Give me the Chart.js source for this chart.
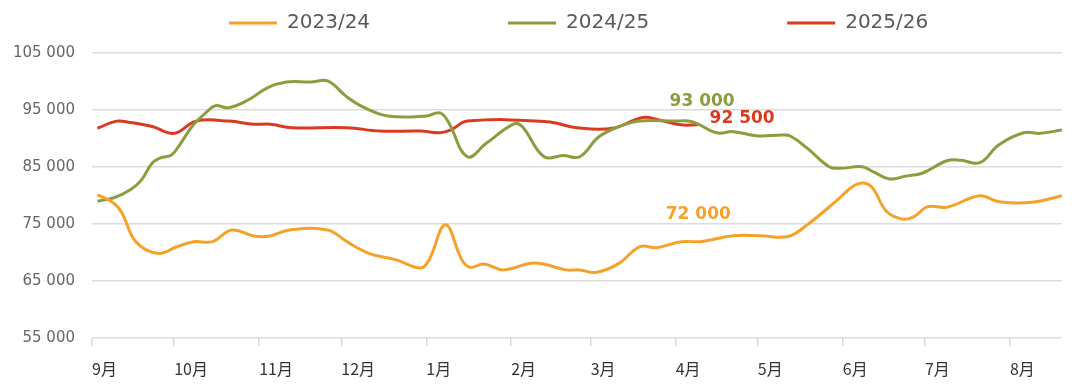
<!DOCTYPE html>
<html>
<head>
<meta charset="utf-8">
<script src="https://cdn.jsdelivr.net/npm/chart.js@4/dist/chart.umd.min.js"></script>
<style>
  html, body { margin: 0; padding: 0; background: #ffffff; }
  #wrap { width: 1080px; height: 387px; position: relative; }
</style>
</head>
<body>
<div id="wrap"><canvas id="c" width="1080" height="387"></canvas></div>
<script>
// ---- data (x = day of season counted from 1 Sep) ----
const monthLabels = ['9月', '10月', '11月', '12月', '1月', '2月', '3月', '4月', '5月', '6月', '7月', '8月'];
const monthStartDays = [0, 30, 61, 91, 122, 153, 182, 213, 243, 274, 304, 335];
const seasonLabels = ['2023/24', '2024/25', '2025/26'];

const days2324 = [2, 8, 11, 16, 24, 31, 37, 44, 51, 59, 65, 72, 86, 93, 101, 111, 120, 123, 129, 135, 138, 143, 150, 160, 165, 173, 178, 184, 192, 200, 206, 215, 222, 234, 244, 254, 261, 272, 278, 282, 285, 290, 296, 300, 305, 312, 324, 331, 343, 354];
const values2324 = [80100, 78650, 76900, 71900, 69850, 71000, 71900, 71900, 73950, 72900, 72900, 73950, 73950, 71900, 69850, 68700, 67300, 68700, 74850, 68700, 67400, 68000, 66950, 68100, 67950, 66950, 66950, 66500, 68000, 71050, 70850, 71900, 71900, 72950, 72950, 72800, 74850, 79200, 81700, 82150, 81250, 77200, 75850, 76300, 78050, 77950, 79950, 78900, 78800, 79950];

const days2425 = [2, 8, 14, 18, 22, 25, 29, 32, 37, 42, 45, 50, 57, 64, 71, 80, 86, 93, 99, 108, 122, 127, 130, 137, 144, 154, 157, 165, 172, 178, 185, 193, 200, 212, 219, 228, 234, 243, 252, 255, 261, 269, 273, 281, 285, 291, 297, 303, 312, 317, 324, 331, 340, 346, 354];
const values2425 = [79000, 79600, 81000, 82700, 85700, 86600, 87100, 88900, 92400, 94700, 95750, 95400, 96750, 98900, 99900, 99900, 100100, 97300, 95500, 93950, 93950, 94500, 92950, 86800, 89200, 92550, 92100, 86800, 87000, 86800, 90300, 92200, 93050, 93050, 92950, 91000, 91200, 90450, 90600, 90400, 88300, 85050, 84770, 85050, 84200, 82900, 83400, 83900, 86100, 86200, 85750, 88900, 91000, 90900, 91500];

const days2526 = [2, 9, 14, 22, 30, 38, 50, 59, 65, 73, 93, 105, 120, 127, 131, 137, 166, 177, 190, 201, 207, 215, 221];
const values2526 = [91800, 93050, 92800, 92100, 90900, 93050, 93050, 92500, 92500, 91900, 91900, 91300, 91300, 91000, 91500, 93050, 92950, 91900, 91800, 93700, 93250, 92400, 92400];

// latest-value labels: [text, series index, day, value]
const calloutTexts = ['93 000', '92 500', '72 000'];
const calloutSeries = [1, 2, 0];
const calloutDays = [219, 221, 222];
const calloutValues = [93000, 92500, 72000];

const yTickValues = [55000, 65000, 75000, 85000, 95000, 105000];

// ---- styles ----
const colors = ['#F5A22A', '#8A9E3E', '#DA3B20'];
const calloutStyle = [
  { dx: 10, dy: -20, align: 'center' },
  { dx: 12, dy: -6, align: 'left' },
  { dx: -2, dy: -27, align: 'center' }
];

function pairs(xs, ys) { return xs.map((x, i) => ({ x: x, y: ys[i] })); }
const seriesData = [pairs(days2324, values2324), pairs(days2425, values2425), pairs(days2526, values2526)];

const LEGEND_PAD = 138;

const legendPlacer = {
  id: 'legendPlacer',
  afterLayout(chart) {
    const lg = chart.legend;
    if (!lg) return;
    lg.left = 229 - LEGEND_PAD;
    lg.right = 1080;
    lg.top = 13 - LEGEND_PAD;
    lg.bottom = 45;
  }
};

const callouts = {
  id: 'callouts',
  afterDatasetsDraw(chart) {
    const ctx = chart.ctx;
    const xs = chart.scales.x, ys = chart.scales.y;
    ctx.save();
    ctx.font = 'bold 17px "DejaVu Sans", sans-serif';
    ctx.textBaseline = 'middle';
    calloutTexts.forEach((t, i) => {
      const st = calloutStyle[i];
      const px = xs.getPixelForValue(calloutDays[i]);
      const py = ys.getPixelForValue(calloutValues[i]);
      ctx.fillStyle = colors[calloutSeries[i]];
      ctx.textAlign = st.align;
      ctx.fillText(t, px + st.dx, py + st.dy);
    });
    ctx.restore();
  }
};

new Chart(document.getElementById('c'), {
  type: 'line',
  data: {
    datasets: seasonLabels.map((lab, i) => ({
      label: lab,
      data: seriesData[i],
      borderColor: colors[i],
      backgroundColor: colors[i],
      borderWidth: 3,
      pointRadius: 0,
      tension: 0.4,
      fill: false
    }))
  },
  options: {
    responsive: false,
    animation: false,
    layout: { padding: { left: 0, right: 18, top: 14, bottom: 0 } },
    plugins: {
      tooltip: { enabled: false },
      legend: {
        position: 'top',
        align: 'start',
        maxHeight: 39,
        labels: {
          boxWidth: 48,
          boxHeight: 3,
          padding: LEGEND_PAD,
          color: '#595959',
          font: { family: '"DejaVu Sans", sans-serif', size: 20 },
          generateLabels(chart) {
            const items = Chart.defaults.plugins.legend.labels.generateLabels(chart);
            items.forEach(it => { it.lineWidth = 0; it.fillStyle = it.strokeStyle; });
            return items;
          }
        }
      }
    },
    scales: {
      x: {
        type: 'linear',
        min: 0,
        max: 354,
        afterFit(s) { s.height = 49; },
        afterBuildTicks(s) { s.ticks = monthStartDays.map(v => ({ value: v })); },
        border: { display: false },
        grid: { drawOnChartArea: false, drawTicks: true, tickLength: 8, color: '#d9d9d9', lineWidth: 1.5 },
        ticks: {
          autoSkip: false,
          maxRotation: 0,
          align: 'start',
          padding: 13,
          color: '#333333',
          font: { family: '"Noto Sans CJK SC", sans-serif', size: 16 },
          callback(value) {
            const idx = monthStartDays.indexOf(value);
            return idx >= 0 ? monthLabels[idx] : '';
          }
        }
      },
      y: {
        min: 55000,
        max: 105000,
        afterFit(s) { s.width = 92; },
        afterBuildTicks(s) { s.ticks = yTickValues.map(v => ({ value: v })); },
        border: { display: false },
        grid: { drawTicks: false, color: '#dcdcdc', lineWidth: 1.5 },
        ticks: {
          padding: 17,
          color: '#666666',
          font: { family: '"DejaVu Sans", sans-serif', size: 15 },
          callback(value) {
            return String(value).replace(/\B(?=(\d{3})+(?!\d))/g, ' ');
          }
        }
      }
    }
  },
  plugins: [legendPlacer, callouts]
});
</script>
</body>
</html>
